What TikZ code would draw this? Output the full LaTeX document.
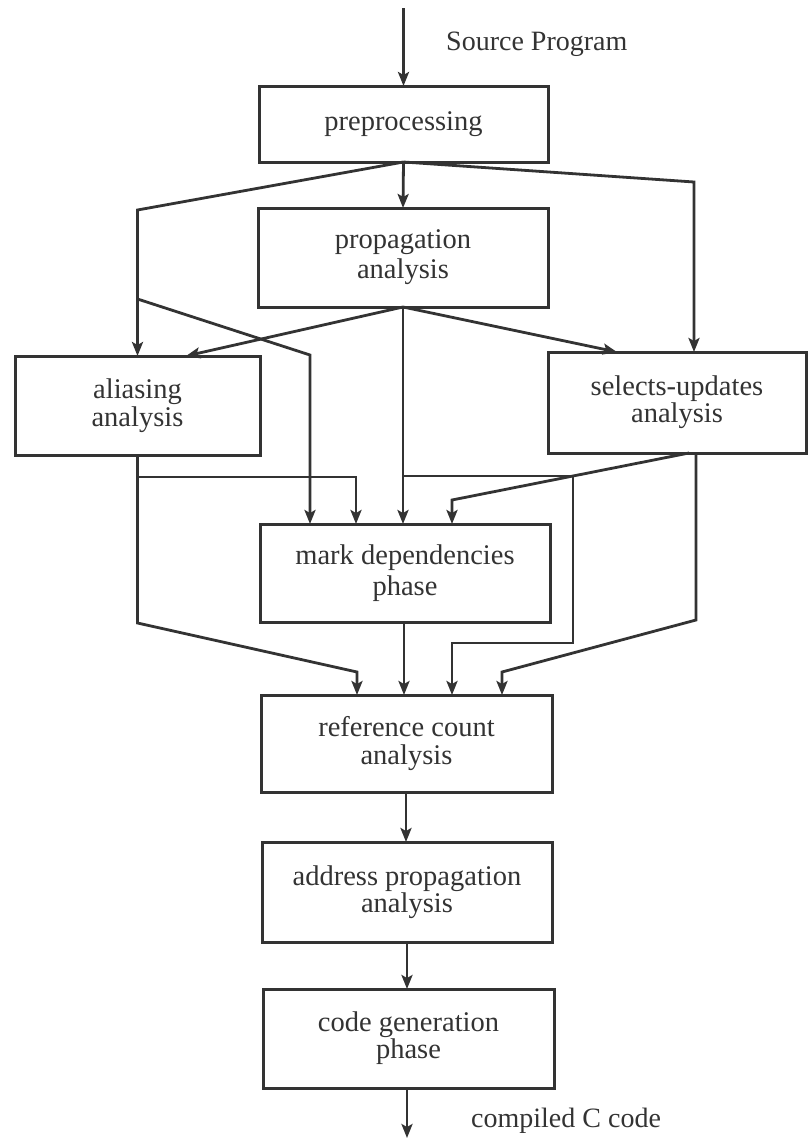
\documentclass[tikz,border=0pt]{standalone}
\usepackage{fontspec}
\setmainfont{Liberation Serif}
\usetikzlibrary{arrows.meta}
\definecolor{ink}{HTML}{333333}
\tikzset{
  phase/.style={draw=ink, line width=3pt, inner sep=0pt, outer sep=0pt,
    align=center, text=ink, font=\fontsize{28.5}{28}\selectfont},
  flow/.style={draw=ink, line width=2.8pt, line join=miter,
    -{Stealth[length=14pt,width=11pt,inset=3pt]}},
  lbl/.style={text=ink, font=\fontsize{28}{28}\selectfont, anchor=west, inner sep=0pt}
}
\begin{document}
\begin{tikzpicture}[x=1pt,y=-1pt]
\useasboundingbox (0,0) rectangle (807,1146);

% phases of the compiler
\node[phase, minimum width=289pt, minimum height=76pt]  (pre)   at (403.5,124)  {preprocessing};
\node[phase, minimum width=290pt, minimum height=99pt]  (prop)  at (403,257.5)  {propagation\\[2pt]analysis};
\node[phase, minimum width=245pt, minimum height=99pt]  (alias) at (137.5,405.5) {aliasing\\[0pt]analysis};
\node[phase, minimum width=258pt, minimum height=101pt] (sel)   at (677,402.5)  {selects-updates\\[-1pt]analysis};
\node[phase, minimum width=290pt, minimum height=98pt]  (mark)  at (405,573)    {mark dependencies\\[3pt]phase};
\node[phase, minimum width=291pt, minimum height=97pt]  (ref)   at (406.5,743.5) {reference count\\[0pt]analysis};
\node[phase, minimum width=290pt, minimum height=100pt] (addr)  at (407,892)    {address propagation\\[-1pt]analysis};
\node[phase, minimum width=291pt, minimum height=99pt]  (code)  at (408.5,1038.5) {code generation\\[-1pt]phase};

% input and output
\coordinate (src) at (403.5,8);
\coordinate (out) at (407,1138);
\node[lbl] (srclbl) at (446,44) {Source Program};
\node[lbl] (outlbl) at (471,1121) {compiled C code};

% branch points on shared lines
\coordinate (brA) at (alias.north |- 0,299);
\coordinate (brP) at (prop.south |- 0,476);

% main chain
\draw[flow] (src) -- (pre.north);
\draw[flow] (pre.south) -- (prop.north);
\draw[flow] (406,0 |- ref.south) -- (406,0 |- addr.north);
\draw[flow] (407,0 |- addr.south) -- (407,0 |- code.north);
\draw[flow] (407,0 |- code.south) -- (out);

% from preprocessing
\draw[flow] (pre.south) -- (alias.north |- 0,210) -- (alias.north);
\draw[flow] (pre.south) -- (694,182) -- (694,0 |- sel.north);
\draw[flow] (brA) -- (310,355) -- (310,0 |- mark.north);

% from propagation analysis
\draw[flow] (prop.south) -- (186,0 |- alias.north);
\draw[flow] (prop.south) -- (617,0 |- sel.north);
\draw[flow] (prop.south) -- (prop.south |- mark.north);
\draw[flow] (brP) -- (573,476) -- (573,643) -- (452,643) -- (452,0 |- ref.north);

% from aliasing analysis
\draw[flow] (alias.south) -- (alias.south |- 0,477) -- (356,477) -- (356,0 |- mark.north);
\draw[flow] (alias.south) -- (alias.south |- 0,623) -- (357,672) -- (357,0 |- ref.north);

% from selects-updates analysis
\draw[flow] (sel.south -| 689,0) -- (452,500) -- (452,0 |- mark.north);
\draw[flow] (sel.south -| 696,0) -- (696,620) -- (502,672) -- (502,0 |- ref.north);

% from mark dependencies
\draw[flow] (404,0 |- mark.south) -- (404,0 |- ref.north);
\end{tikzpicture}
\end{document}
